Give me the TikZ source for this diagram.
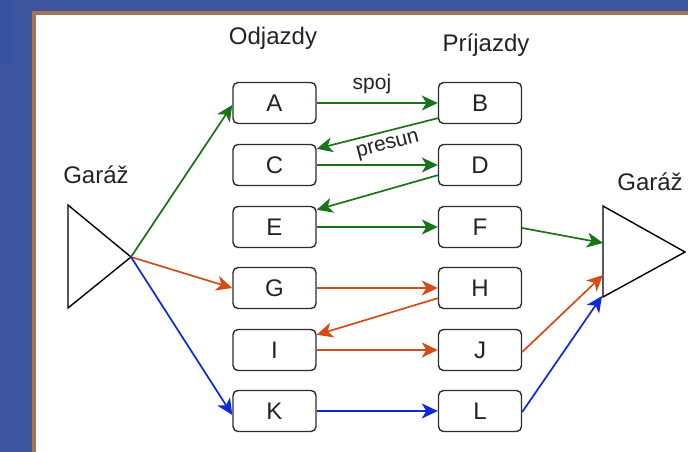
\documentclass[tikz,border=0pt]{standalone}
\usepackage{fontspec}
\setmainfont{Liberation Sans}
\usetikzlibrary{arrows.meta}
\definecolor{bgblue}{RGB}{60,85,158}
\definecolor{bgdark}{RGB}{55,82,160}
\definecolor{framebrown}{RGB}{168,116,80}
\definecolor{boxgray}{RGB}{45,45,45}
\definecolor{txtgray}{RGB}{35,35,35}
\definecolor{lgreen}{RGB}{25,115,25}
\definecolor{lorange}{RGB}{215,75,20}
\definecolor{lblue}{RGB}{15,40,220}
\tikzset{
  stepbox/.style={draw=boxgray, line width=1.4pt, rounded corners=5pt,
    minimum width=83pt, minimum height=41pt, inner sep=0pt,
    font=\fontsize{24}{28}\selectfont, text=txtgray},
  lbl/.style={font=\fontsize{24}{28}\selectfont, text=txtgray, inner sep=0pt},
  slbl/.style={font=\fontsize{21}{25}\selectfont, text=txtgray, inner sep=0pt},
  conn/.style={line width=1.7pt, -{Stealth[length=16pt,width=15pt,inset=4.5pt]}},
  tri/.style={draw=black, line width=1.4pt, line join=miter}
}
\begin{document}
\begin{tikzpicture}[x=1pt,y=-1pt]
\useasboundingbox (0,0) rectangle (688,452);
\fill[bgblue] (0,0) rectangle (688,452);
\fill[bgdark] (0,0) rectangle (13,64);
\fill[framebrown] (32,11) rectangle (690,454);
\fill[white] (36,15) rectangle (690,454);

% headers
\node[lbl] (odj) at (273,38) {Odjazdy};
\node[lbl] (pri) at (486,45) {Príjazdy};
\node[lbl] (gl) at (96,175) {Garáž};
\node[lbl] (gr) at (650,182) {Garáž};

% left garage triangle
\coordinate (lt1) at (68,205);
\coordinate (lt2) at (68,308);
\coordinate (lap) at (131,257);
\draw[tri] (lt1) -- (lap) -- (lt2) -- cycle;

% right garage triangle
\coordinate (rt1) at (603,206);
\coordinate (rt2) at (603,297);
\coordinate (rap) at (685,252);
\draw[tri] (rt1) -- (rap) -- (rt2) -- cycle;
\coordinate (rin1) at (603,243);
\coordinate (rin2) at (603,275);
\coordinate (rin3) at (602,296);

% boxes
\node[stepbox] (A) at (274.5,103) {A};
\node[stepbox] (C) at (274.5,165) {C};
\node[stepbox] (E) at (274.5,227) {E};
\node[stepbox] (G) at (274.5,288) {G};
\node[stepbox] (I) at (274.5,350) {I};
\node[stepbox] (K) at (274.5,411) {K};
\node[stepbox] (B) at (480,103) {B};
\node[stepbox] (D) at (480,165) {D};
\node[stepbox] (F) at (480,227) {F};
\node[stepbox] (H) at (480,288) {H};
\node[stepbox] (J) at (480,350) {J};
\node[stepbox] (L) at (480,411) {L};

% green
\draw[conn, lgreen] (lap) -- ([yshift=-2pt]A.west);
\draw[conn, lgreen] (A.east) -- (B.west);
\draw[conn, lgreen] ([yshift=6pt]B.south west) -- ([yshift=-5pt]C.north east);
\draw[conn, lgreen] (C.east) -- (D.west);
\draw[conn, lgreen] ([yshift=11pt]D.south west) -- ([yshift=-4pt]E.north east);
\draw[conn, lgreen] (E.east) -- (F.west);
\draw[conn, lgreen] ([yshift=-1pt]F.east) -- (rin1);
\node[slbl] (spoj) at (372,84) {spoj};
\node[slbl, rotate=14.7] (presun) at (388,146) {presun};

% orange
\draw[conn, lorange] (lap) -- (G.west);
\draw[conn, lorange] (G.east) -- (H.west);
\draw[conn, lorange] ([yshift=11pt]H.south west) -- ([yshift=-6pt]I.north east);
\draw[conn, lorange] (I.east) -- (J.west);
\draw[conn, lorange] ([yshift=-2pt]J.east) -- (rin2);

% blue
\draw[conn, lblue] (lap) -- ([yshift=-4pt]K.west);
\draw[conn, lblue] (K.east) -- (L.west);
\draw[conn, lblue] ([yshift=-1pt]L.east) -- (rin3);
\end{tikzpicture}
\end{document}
